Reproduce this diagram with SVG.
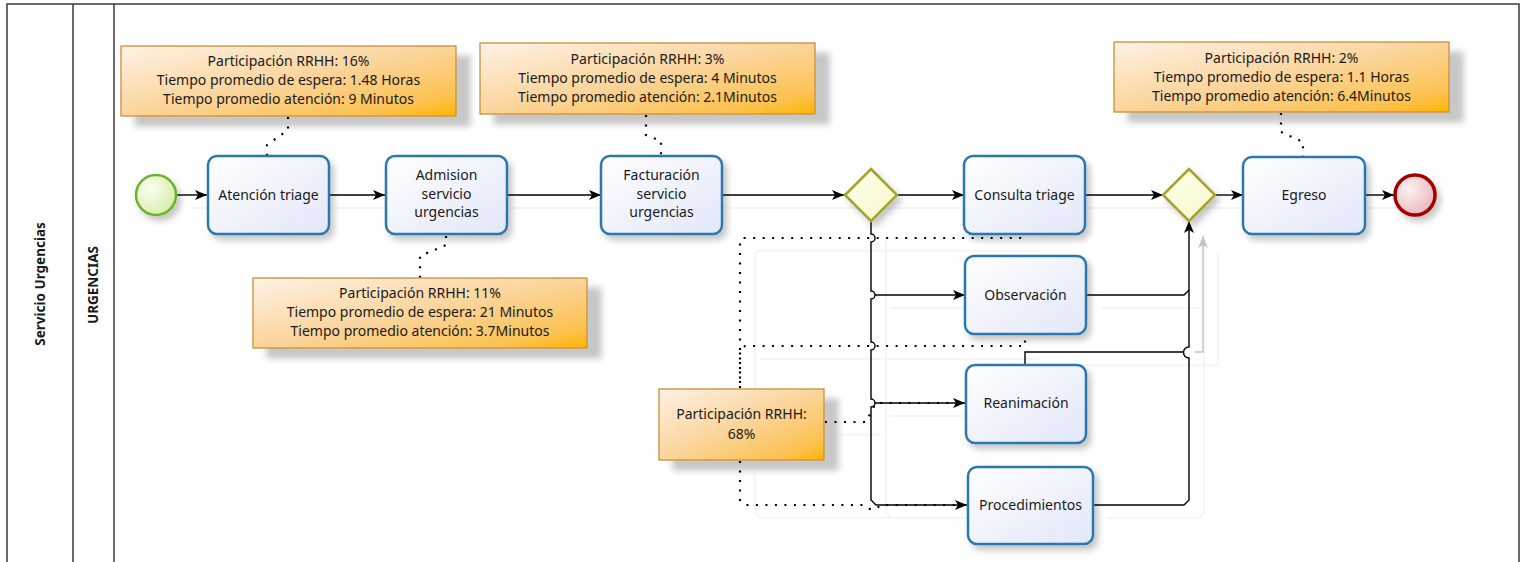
<svg xmlns="http://www.w3.org/2000/svg" width="1525" height="562" viewBox="0 0 1525 562">
  <style>
    text { font-family: "Noto Sans", "Open Sans", "DejaVu Sans", sans-serif; fill: #1a1a1a; }
    .lane-label { font-size: 13.5px; font-weight: bold; text-anchor: middle; }
    .task-label { font-size: 14px; text-anchor: middle; }
    .note-label { font-size: 14px; text-anchor: middle; }
    .task { fill: url(#taskFill); stroke: #2a78ad; stroke-width: 2.5; filter: url(#softShadow); }
    .note { fill: url(#noteFill); stroke: #c98e3b; stroke-width: 1.3; filter: url(#noteShadow); }
    .gateway { fill: url(#gwFill); stroke: #a3a32a; stroke-width: 2.5; filter: url(#softShadow); }
    .flow { fill: none; stroke: #000; stroke-width: 1.4; }
    .flow-arrow { marker-end: url(#arrow); }
    .ghost { fill: none; stroke: #c4c4c4; stroke-width: 1.4; marker-end: url(#arrowGhost); }
    .assoc { fill: none; stroke: #000; stroke-width: 2.2; stroke-dasharray: 2 7.5; }
    .shade { fill: none; stroke: #f3f3f3; stroke-width: 1.5; }
    .frame { fill: none; stroke: #3a3a3a; stroke-width: 1.5; }
  </style>
  <defs>
    <linearGradient id="taskFill" x1="0" y1="0" x2="1" y2="1">
      <stop offset="0" stop-color="#ffffff"/>
      <stop offset="1" stop-color="#e2e7f9"/>
    </linearGradient>
    <linearGradient id="noteFill" x1="0" y1="0" x2="1" y2="1">
      <stop offset="0" stop-color="#fef2e6"/>
      <stop offset="0.5" stop-color="#fbd49a"/>
      <stop offset="0.85" stop-color="#fcc250"/>
      <stop offset="1" stop-color="#ffb400"/>
    </linearGradient>
    <linearGradient id="gwFill" x1="0" y1="0" x2="1" y2="1">
      <stop offset="0" stop-color="#ffffee"/>
      <stop offset="1" stop-color="#f7f7c8"/>
    </linearGradient>
    <radialGradient id="startFill" cx="0.35" cy="0.35" r="0.75">
      <stop offset="0" stop-color="#fbfff2"/>
      <stop offset="1" stop-color="#d3eca8"/>
    </radialGradient>
    <radialGradient id="endFill" cx="0.35" cy="0.35" r="0.75">
      <stop offset="0" stop-color="#fdf0f0"/>
      <stop offset="1" stop-color="#e8b4bc"/>
    </radialGradient>
    <filter id="softShadow" x="-20%" y="-20%" width="150%" height="150%">
      <feDropShadow dx="4" dy="5" stdDeviation="3" flood-color="#000" flood-opacity="0.22"/>
    </filter>
    <filter id="noteShadow" x="-10%" y="-20%" width="130%" height="160%">
      <feDropShadow dx="14" dy="10" stdDeviation="3" flood-color="#000" flood-opacity="0.22"/>
    </filter>
    <marker id="arrow" markerUnits="userSpaceOnUse" markerWidth="13" markerHeight="11" refX="12" refY="5" orient="auto" viewBox="0 0 13 11">
      <path d="M0,0 L12,5 L0,10 L3,5 Z" fill="#000"/>
    </marker>
    <marker id="arrowGhost" markerUnits="userSpaceOnUse" markerWidth="13" markerHeight="11" refX="12" refY="5" orient="auto" viewBox="0 0 13 11">
      <path d="M0,0 L12,5 L0,10 L3,5 Z" fill="#c4c4c4"/>
    </marker>
  </defs>

  <rect width="1525" height="562" fill="#ffffff"/>

  <!-- pool and lane frame -->
  <g id="pool">
    <path class="frame" d="M7,562 V4 H1519 V562"/>
    <path class="frame" d="M73,4 V562 M114,4 V562"/>
    <text class="lane-label" transform="translate(40,284) rotate(-90)" dy="4.5">Servicio Urgencias</text>
    <text class="lane-label" transform="translate(93,285) rotate(-90)" dy="4.5">URGENCIAS</text>
  </g>

  <!-- faint drop shade of the connectors -->
  <g id="connector-shade" transform="translate(15,13)">
    <path class="shade" d="M176,195 H1394"/>
    <path class="shade" d="M871,221 V500 L876,505 H967 M875,295 H965 M875,403 H965"/>
    <path class="shade" d="M1093,505 H1184 L1189,500 V221 M1086,295 H1184 M1025,365 V352 H1203 V240"/>
    <path class="shade" d="M740,460 V500 L745,505 H965 M740,389 V242 Q740,238 744,238 H1025 M745,346 H1025 M824,422 H866"/>
  </g>

  <!-- sequence flows and associations -->
  <g id="connectors">
    <path class="flow flow-arrow" d="M176,195 H207"/>
    <path class="flow flow-arrow" d="M329,195 H385"/>
    <path class="flow flow-arrow" d="M507,195 H601"/>
    <path class="flow flow-arrow" d="M722,195 H844"/>
    <path class="flow flow-arrow" d="M897,195 H964"/>
    <path class="flow flow-arrow" d="M871,221 V234 a4,4 0 0 1 0,8 V291 a4,4 0 0 1 0,8 V342 a4,4 0 0 1 0,8 V399 a4,4 0 0 1 0,8 V500 L876,505 H967"/>
    <path class="flow flow-arrow" d="M875,295 H965"/>
    <path class="flow flow-arrow" d="M875,403 H965"/>
    <path class="flow flow-arrow" d="M1085,195 H1163"/>
    <path class="flow flow-arrow" d="M1216,195 H1243"/>
    <path class="flow flow-arrow" d="M1365,195 H1394"/>
    <path class="flow flow-arrow" d="M1093,505 H1184 L1189,500 V358 a5.5,5.5 0 0 1 0,-11 V221"/>
    <path class="flow" d="M1086,295 H1184 L1189,290"/>
    <path class="flow" d="M1025,365 V352 H1183"/>
    <path class="ghost" d="M1195,352 H1203 V236"/>

    <path class="assoc" d="M288,117 V130 L267,145 V156"/>
    <path class="assoc" d="M646,115 V135 L661,141 V156"/>
    <path class="assoc" d="M1281,113 V132 L1303,142 V157"/>
    <path class="assoc" d="M446,236 V245 L420,256 V278"/>
    <path class="assoc" d="M740,388 V242 Q740,238 744,238 H1025 V235"/>
    <path class="assoc" d="M740,383 V350 L745,346 H1025 V335"/>
    <path class="assoc" d="M825,422 H866 L871,412 L876,403 H962"/>
    <path class="assoc" d="M740,461 V500 L745,505 H864 Q874,514 880,505 H962"/>
  </g>

  <!-- events -->
  <g id="start-event">
    <circle cx="156" cy="195" r="20" fill="url(#startFill)" stroke="#6cb22a" stroke-width="2.5" filter="url(#softShadow)"/>
  </g>
  <g id="end-event">
    <circle cx="1415" cy="195" r="20" fill="url(#endFill)" stroke="#a30000" stroke-width="3.5" filter="url(#softShadow)"/>
  </g>

  <!-- tasks -->
  <g id="task-atencion-triage">
    <rect class="task" x="208" y="156" width="121" height="78" rx="9"/>
    <text class="task-label" x="268.5" y="200">Atención triage</text>
  </g>
  <g id="task-admision">
    <rect class="task" x="386" y="156" width="121" height="78" rx="9"/>
    <text class="task-label" x="446.5" y="180">Admision</text>
    <text class="task-label" x="446.5" y="198.5">servicio</text>
    <text class="task-label" x="446.5" y="217">urgencias</text>
  </g>
  <g id="task-facturacion">
    <rect class="task" x="601" y="156" width="121" height="78" rx="9"/>
    <text class="task-label" x="661.5" y="180">Facturación</text>
    <text class="task-label" x="661.5" y="198.5">servicio</text>
    <text class="task-label" x="661.5" y="217">urgencias</text>
  </g>
  <g id="task-consulta-triage">
    <rect class="task" x="964" y="156" width="121" height="78" rx="9"/>
    <text class="task-label" x="1024.5" y="200">Consulta triage</text>
  </g>
  <g id="task-observacion">
    <rect class="task" x="965" y="256" width="121" height="78" rx="9"/>
    <text class="task-label" x="1025.5" y="300">Observación</text>
  </g>
  <g id="task-reanimacion">
    <rect class="task" x="966" y="365" width="120" height="78" rx="9"/>
    <text class="task-label" x="1026" y="408">Reanimación</text>
  </g>
  <g id="task-procedimientos">
    <rect class="task" x="968" y="467" width="125" height="77" rx="9"/>
    <text class="task-label" x="1030.5" y="510">Procedimientos</text>
  </g>
  <g id="task-egreso">
    <rect class="task" x="1243" y="157" width="122" height="77" rx="9"/>
    <text class="task-label" x="1304" y="200">Egreso</text>
  </g>

  <!-- gateways -->
  <g id="gateway-split">
    <path class="gateway" d="M871,169 L897,195 L871,221 L845,195 Z"/>
  </g>
  <g id="gateway-join">
    <path class="gateway" d="M1189,169 L1215,195 L1189,221 L1163,195 Z"/>
  </g>

  <!-- text annotations -->
  <g id="note-atencion-triage">
    <rect class="note" x="121" y="46" width="335" height="70"/>
    <text class="note-label" x="288.5" y="66">Participación RRHH: 16%</text>
    <text class="note-label" x="288.5" y="85">Tiempo promedio de espera: 1.48 Horas</text>
    <text class="note-label" x="288.5" y="103.5">Tiempo promedio atención: 9 Minutos</text>
  </g>
  <g id="note-facturacion">
    <rect class="note" x="480" y="43" width="335" height="71"/>
    <text class="note-label" x="647.5" y="64">Participación RRHH: 3%</text>
    <text class="note-label" x="647.5" y="83">Tiempo promedio de espera: 4 Minutos</text>
    <text class="note-label" x="647.5" y="102">Tiempo promedio atención: 2.1Minutos</text>
  </g>
  <g id="note-admision">
    <rect class="note" x="253" y="278" width="334" height="70"/>
    <text class="note-label" x="420" y="298">Participación RRHH: 11%</text>
    <text class="note-label" x="420" y="317">Tiempo promedio de espera: 21 Minutos</text>
    <text class="note-label" x="420" y="335.5">Tiempo promedio atención: 3.7Minutos</text>
  </g>
  <g id="note-egreso">
    <rect class="note" x="1114" y="42" width="335" height="70"/>
    <text class="note-label" x="1281.5" y="63">Participación RRHH: 2%</text>
    <text class="note-label" x="1281.5" y="82">Tiempo promedio de espera: 1.1 Horas</text>
    <text class="note-label" x="1281.5" y="101">Tiempo promedio atención: 6.4Minutos</text>
  </g>
  <g id="note-atencion-urgencias">
    <rect class="note" x="659" y="389" width="165" height="71"/>
    <text class="note-label" x="741.5" y="419">Participación RRHH:</text>
    <text class="note-label" x="741.5" y="439">68%</text>
  </g>
</svg>
